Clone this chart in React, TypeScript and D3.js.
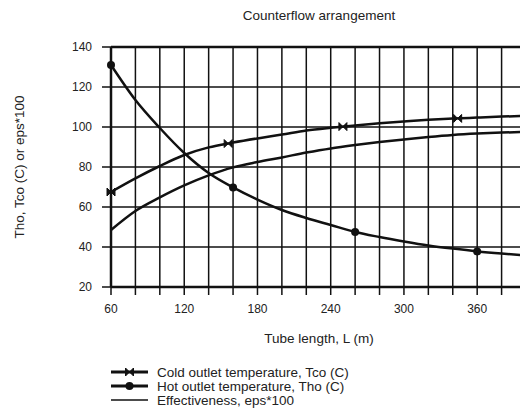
import React from "react";
import * as d3 from "d3";

const lengths = [60, 80, 100, 120, 140, 160, 180, 200, 220, 240, 260, 280, 300, 320, 340, 360, 380, 400];
const coldOutlet = [67.5, 74.3, 80.5, 86, 89.8, 92.2, 94.3, 96.2, 98.2, 99.6, 100.8, 101.9, 102.8, 103.6, 104.2, 104.7, 105.2, 105.6];
const hotOutlet = [131, 113.5, 99.5, 87, 77, 69.8, 63.7, 58.5, 54.5, 51, 47.5, 45, 42.8, 40.8, 39.2, 37.8, 36.7, 35.8];
const effectiveness = [48.5, 58, 64.8, 70.8, 75.8, 79.8, 82.5, 84.8, 87.2, 89.3, 91, 92.5, 93.8, 95, 96, 96.7, 97.2, 97.6];

const coldMarkerL = [60, 156, 250, 344];
const hotMarkerL = [60, 160, 260, 360];

const xTicks = [60, 120, 180, 240, 300, 360];
const yTicks = [20, 40, 60, 80, 100, 120, 140];
const xGrid = d3.range(60, 401, 20);

const title = "Counterflow arrangement";
const xLabel = "Tube length, L (m)";
const yLabel = "Tho, Tco (C) or eps*100";
const legendLabels = ["Cold outlet temperature, Tco (C)", "Hot outlet temperature, Tho (C)", "Effectiveness, eps*100"];

export default function App() {
  const left = 111, right = 526, top = 47, bottom = 287;
  const x = d3.scaleLinear().domain([60, 400]).range([left, right]);
  const y = d3.scaleLinear().domain([20, 140]).range([bottom, top]);
  const interp = (arr: number[]) => (L: number) => {
    const i = d3.bisectLeft(lengths, L);
    if (i <= 0) return arr[0];
    if (i >= lengths.length) return arr[arr.length - 1];
    const t = (L - lengths[i - 1]) / (lengths[i] - lengths[i - 1]);
    return arr[i - 1] + t * (arr[i] - arr[i - 1]);
  };
  const line = (arr: number[]) =>
    d3.line<number>().x((_, i) => x(lengths[i])).y((d) => y(d)).curve(d3.curveMonotoneX)(arr) || "";
  const coldAt = interp(coldOutlet);
  const hotAt = interp(hotOutlet);
  const font = "'Liberation Sans', Arial, sans-serif";
  const bowtie = "M-4,-4 L4,4 L4,-4 L-4,4 Z";
  const stroke = "#111";

  return (
    <svg width={520} height={410} style={{ position: "absolute", left: 0, top: 0, background: "#fff" }} fontFamily={font}>
      <rect x={0} y={0} width={520} height={410} fill="#fff" />
      <text x={319} y={20} textAnchor="middle" fontSize={13.5} fill="#222">{title}</text>
      {/* grid */}
      {xGrid.map((v) => (
        <line key={"gx" + v} x1={x(v)} x2={x(v)} y1={top} y2={bottom + 8} stroke={stroke} strokeWidth={1.5} />
      ))}
      {yTicks.map((v) => (
        <line key={"gy" + v} x1={left - 9} x2={right} y1={y(v)} y2={y(v)} stroke={stroke} strokeWidth={1.5} />
      ))}
      {/* frame */}
      <line x1={left} x2={right} y1={top} y2={top} stroke={stroke} strokeWidth={2.5} />
      <line x1={left} x2={right} y1={bottom} y2={bottom} stroke={stroke} strokeWidth={2.5} />
      <line x1={left} x2={left} y1={top} y2={bottom} stroke={stroke} strokeWidth={2.5} />
      {/* tick labels */}
      {yTicks.map((v) => (
        <text key={"ty" + v} x={92} y={y(v)} dy="0.35em" textAnchor="end" fontSize={12} fill="#222">{v}</text>
      ))}
      {xTicks.map((v) => (
        <text key={"tx" + v} x={x(v)} y={313} textAnchor="middle" fontSize={12} fill="#222">{v}</text>
      ))}
      <text x={319} y={343} textAnchor="middle" fontSize={13.5} fill="#222">{xLabel}</text>
      <text transform="translate(24,167) rotate(-90)" textAnchor="middle" fontSize={13.5} fill="#222">{yLabel}</text>
      {/* curves */}
      <path d={line(effectiveness)} fill="none" stroke={stroke} strokeWidth={2.5} />
      <path d={line(coldOutlet)} fill="none" stroke={stroke} strokeWidth={2.5} />
      <path d={line(hotOutlet)} fill="none" stroke={stroke} strokeWidth={2.5} />
      {coldMarkerL.map((L) => (
        <path key={"cm" + L} d={bowtie} transform={`translate(${x(L)},${y(coldAt(L))})`} fill={stroke} stroke={stroke} strokeWidth={1} />
      ))}
      {hotMarkerL.map((L) => (
        <circle key={"hm" + L} cx={x(L)} cy={y(hotAt(L))} r={4} fill={stroke} />
      ))}
      {/* legend */}
      {legendLabels.map((lab, i) => {
        const ly = 372 + i * 14;
        return (
          <g key={lab}>
            <line x1={111} x2={148} y1={ly} y2={ly} stroke={stroke} strokeWidth={i < 2 ? 3 : 1.5} />
            {i === 0 && <path d={bowtie} transform={`translate(129.5,${ly})`} fill={stroke} stroke={stroke} />}
            {i === 1 && <circle cx={129.5} cy={ly} r={4} fill={stroke} />}
            <text x={157} y={ly + 5} fontSize={13.5} fill="#222">{lab}</text>
          </g>
        );
      })}
    </svg>
  );
}
